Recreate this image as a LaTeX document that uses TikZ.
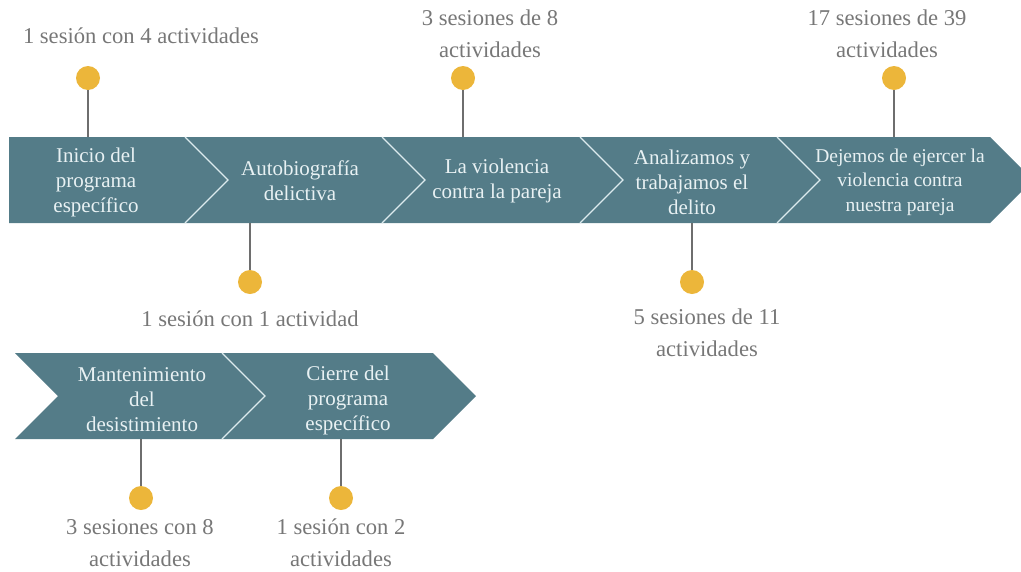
\documentclass[tikz,border=0pt]{standalone}
\usepackage{fontspec}
\setmainfont{Liberation Serif}
\definecolor{band}{HTML}{547C88}
\definecolor{gold}{HTML}{ECB63A}
\definecolor{lbl}{HTML}{777777}
\definecolor{sep}{HTML}{DCEBEE}
\definecolor{btxt}{HTML}{E8F1F3}
\definecolor{conn}{HTML}{6E6E6E}
\tikzset{
  bandtext/.style={text=btxt, align=center, font=\fontsize{21}{25}\selectfont, inner sep=0pt},
  lbltext/.style={text=lbl, align=center, font=\fontsize{22.6}{32}\selectfont, inner sep=0pt},
  dot/.style={circle, fill=gold, minimum size=24pt, inner sep=0pt},
  stem/.style={draw=conn, line width=1.5pt},
  seam/.style={draw=sep, line width=1.3pt, line join=miter}
}
\begin{document}
\begin{tikzpicture}[x=1pt,y=-1pt]
\useasboundingbox (0,0) rectangle (1021,571);
\clip (0,0) rectangle (1021,571);

% top band
\fill[band] (9,137) -- (990,137) -- (1033,180) -- (990,223) -- (9,223) -- cycle;
\foreach \x in {185,382,580,777}{
  \draw[seam] (\x,137) -- (\x+43,180) -- (\x,223);
}
% bottom band
\fill[band] (15,353) -- (433,353) -- (476,396) -- (433,439) -- (15,439) -- (58,396) -- cycle;
\draw[seam] (222,353) -- (265,396) -- (222,439);

% band texts
\node[bandtext] (s1) at (96,182) {Inicio del\\programa\\específico};
\node[bandtext] (s2) at (300,181) {Autobiografía\\delictiva};
\node[bandtext] (s3) at (497,181) {La violencia\\contra la pareja};
\node[bandtext] (s4) at (692,182) {Analizamos y\\trabajamos el\\delito};
\node[bandtext, font=\fontsize{19.5}{24.5}\selectfont] (s5) at (900,182) {Dejemos de ejercer la\\violencia contra\\nuestra pareja};
\node[bandtext] (s6) at (142,400) {Mantenimiento\\del\\desistimiento};
\node[bandtext] (s7) at (348,400) {Cierre del\\programa\\específico};

% attach points on band edges
\coordinate (e1) at (88,137);
\coordinate (e2) at (250,223);
\coordinate (e3) at (463,137);
\coordinate (e4) at (692,223);
\coordinate (e5) at (894,137);
\coordinate (e6) at (141,439);
\coordinate (e7) at (341,439);

% dots
\node[dot] (d1) at (88,78) {};
\node[dot] (d2) at (250,282) {};
\node[dot] (d3) at (463,78) {};
\node[dot] (d4) at (692,282) {};
\node[dot] (d5) at (894,78) {};
\node[dot] (d6) at (141,498) {};
\node[dot] (d7) at (341,498) {};

% stems
\draw[stem] (d1) -- (e1);
\draw[stem] (d2) -- (e2);
\draw[stem] (d3) -- (e3);
\draw[stem] (d4) -- (e4);
\draw[stem] (d5) -- (e5);
\draw[stem] (d6) -- (e6);
\draw[stem] (d7) -- (e7);

% labels
\node[lbltext] (l1) at (141,36) {1 sesión con 4 actividades};
\node[lbltext] (l2) at (250,319) {1 sesión con 1 actividad};
\node[lbltext] (l3) at (490,34) {3 sesiones de 8\\actividades};
\node[lbltext] (l4) at (707,333) {5 sesiones de 11\\actividades};
\node[lbltext] (l5) at (887,34) {17 sesiones de 39\\actividades};
\node[lbltext] (l6) at (140,543) {3 sesiones con 8\\actividades};
\node[lbltext] (l7) at (341,543) {1 sesión con 2\\actividades};
\end{tikzpicture}
\end{document}
